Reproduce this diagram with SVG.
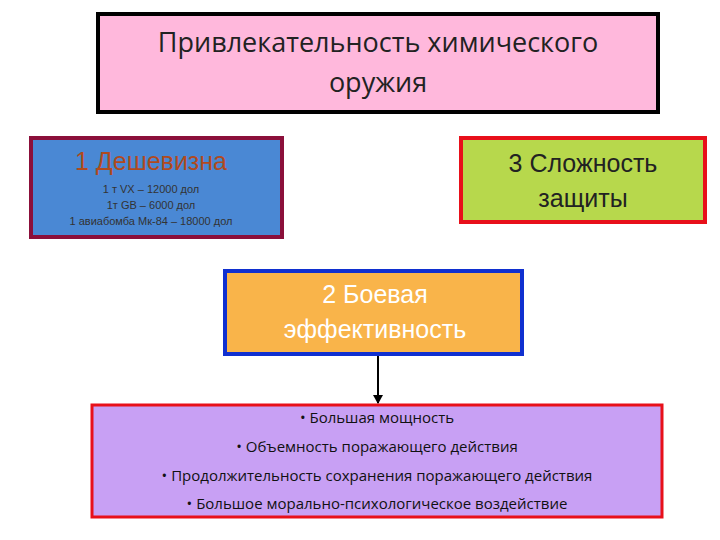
<svg xmlns="http://www.w3.org/2000/svg" width="720" height="540" viewBox="0 0 720 540">
<style>
.c{font-family:"Open Sans","Liberation Sans",sans-serif;text-anchor:middle}
.a{font-family:"Liberation Sans",Arial,sans-serif;text-anchor:middle}
</style>
<defs><marker id="ar" markerWidth="10" markerHeight="10" refX="8" refY="5" orient="auto" markerUnits="userSpaceOnUse"><path d="M0,0 L9,5 L0,10 z" fill="#000"/></marker></defs>
<rect width="720" height="540" fill="#fff"/>
<g id="title"><rect x="98" y="14" width="560" height="98" fill="#ffb8dc" stroke="#000" stroke-width="4"/>
<text class="c" x="378" y="52" font-size="27" fill="#222">Привлекательность химического</text>
<text class="c" x="378" y="92" font-size="27" fill="#222">оружия</text></g>
<g id="n1"><rect x="31" y="138" width="251" height="99" fill="#4a88d4" stroke="#8b0f3a" stroke-width="4"/>
<text class="a" x="151" y="170" font-size="25" fill="#b04a1e">1 Дешевизна</text>
<text class="a" x="151" y="193" font-size="11" fill="#333">1 т VX – 12000 дол</text>
<text class="a" x="151" y="209" font-size="11" fill="#333">1т GB – 6000 дол</text>
<text class="a" x="151" y="225" font-size="11" fill="#333">1 авиабомба Мк-84 – 18000 дол</text></g>
<g id="n3"><rect x="461" y="138" width="244" height="84" fill="#b7d84c" stroke="#e8101a" stroke-width="4"/>
<text class="a" x="583" y="172" font-size="25" fill="#222">3 Сложность</text>
<text class="a" x="583" y="207" font-size="25" fill="#222">защиты</text></g>
<g id="n2"><rect x="225" y="271" width="297" height="83" fill="#f9b44a" stroke="#1030d0" stroke-width="4"/>
<text class="a" x="375" y="303" font-size="25" fill="#fff">2 Боевая</text>
<text class="a" x="375" y="338" font-size="25" fill="#fff">эффективность</text></g>
<g id="n4"><rect x="92" y="405" width="570" height="112" fill="#c8a0f4" stroke="#e8101a" stroke-width="3"/>
<g class="c" font-size="15" fill="#111">
<text x="377" y="423">• Большая мощность</text>
<text x="377" y="452">• Объемность поражающего действия</text>
<text x="377" y="481">• Продолжительность сохранения поражающего действия</text>
<text x="377" y="509">• Большое морально-психологическое воздействие</text></g></g>
<g id="connectors"><line x1="378" y1="356" x2="378" y2="403" stroke="#000" stroke-width="2" marker-end="url(#ar)"/></g>
</svg>
